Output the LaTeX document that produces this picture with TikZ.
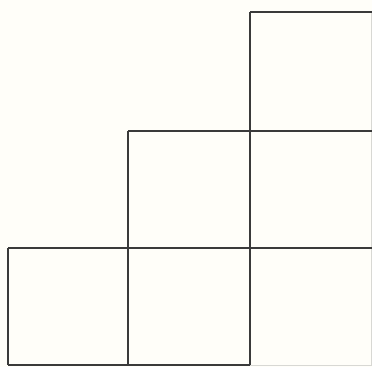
\documentclass[tikz,border=0pt]{standalone}
\definecolor{paper}{HTML}{FFFEF9}
\definecolor{ink}{HTML}{3A3A3A}
\definecolor{faint}{HTML}{D8D8D4}
\tikzset{edge/.style={draw=ink,line width=1.4pt},
         faintedge/.style={draw=faint,line width=1pt}}
\begin{document}
\begin{tikzpicture}[x=1pt,y=-1pt]
\fill[paper] (0,0) rectangle (372,367);
\useasboundingbox (0,0) rectangle (372,367);
% faint right and bottom-right edges
\draw[faintedge] (371,12) -- (371,365);
\draw[faintedge] (250,365) -- (372,365);
% horizontal lines
\draw[edge] (250,12) -- (372,12);
\draw[edge] (128,131) -- (372,131);
\draw[edge] (8,248) -- (372,248);
\draw[edge] (8,365) -- (250,365);
% vertical lines
\draw[edge] (8,248) -- (8,365);
\draw[edge] (128,131) -- (128,365);
\draw[edge] (250,12) -- (250,365);
\end{tikzpicture}
\end{document}
